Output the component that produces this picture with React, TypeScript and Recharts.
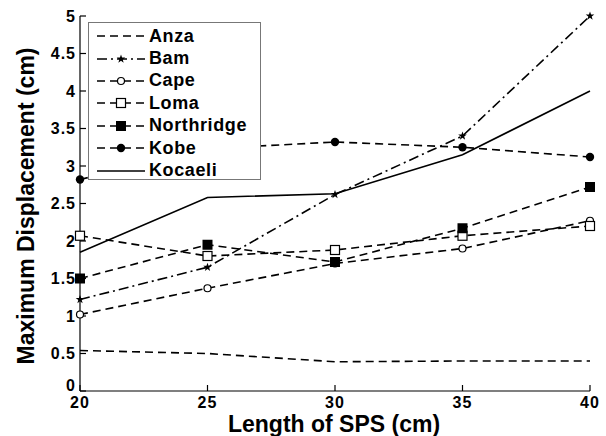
import { LineChart, Line, XAxis, YAxis } from 'recharts';

const lengths = [20, 25, 30, 35, 40];
const anza = [0.54, 0.5, 0.39, 0.4, 0.4];
const bam = [1.22, 1.65, 2.62, 3.4, 5.0];
const cape = [1.02, 1.37, 1.7, 1.9, 2.27];
const loma = [2.07, 1.8, 1.88, 2.07, 2.2];
const northridge = [1.5, 1.95, 1.72, 2.17, 2.72];
const kobe = [2.82, 3.23, 3.32, 3.25, 3.12];
const kocaeli = [1.85, 2.58, 2.63, 3.15, 4.0];
const yTicks = [0, 0.5, 1, 1.5, 2, 2.5, 3, 3.5, 4, 4.5, 5];
const xTicks = [20, 25, 30, 35, 40];

const data = lengths.map((l, i) => ({
  len: l,
  Anza: anza[i],
  Bam: bam[i],
  Cape: cape[i],
  Loma: loma[i],
  Northridge: northridge[i],
  Kobe: kobe[i],
  Kocaeli: kocaeli[i],
}));

const FONT = '"Liberation Sans", Arial, sans-serif';

function marker(kind: string, cx: number, cy: number, key?: any) {
  if (kind === 'star') {
    const pts: string[] = [];
    for (let k = 0; k < 10; k++) {
      const r = k % 2 === 0 ? 4.5 : 1.8;
      const a = (Math.PI / 5) * k - Math.PI / 2;
      pts.push(`${cx + r * Math.cos(a)},${cy + r * Math.sin(a)}`);
    }
    return <polygon key={key} points={pts.join(' ')} fill="#000" />;
  }
  if (kind === 'ocircle') return <circle key={key} cx={cx} cy={cy} r={3.5} fill="#fff" stroke="#000" strokeWidth={1.2} />;
  if (kind === 'osquare') return <rect key={key} x={cx - 4.5} y={cy - 4.5} width={9} height={9} fill="#fff" stroke="#000" strokeWidth={1.2} />;
  if (kind === 'fsquare') return <rect key={key} x={cx - 5} y={cy - 5} width={10} height={10} fill="#000" />;
  if (kind === 'fcircle') return <circle key={key} cx={cx} cy={cy} r={4.2} fill="#000" />;
  return <g key={key} />;
}

const series = [
  { name: 'Anza', dash: '8 5', mark: 'none' },
  { name: 'Bam', dash: '10 4 2 4', mark: 'star' },
  { name: 'Cape', dash: '8 5', mark: 'ocircle' },
  { name: 'Loma', dash: '8 5', mark: 'osquare' },
  { name: 'Northridge', dash: '8 5', mark: 'fsquare' },
  { name: 'Kobe', dash: '8 5', mark: 'fcircle' },
  { name: 'Kocaeli', dash: '', mark: 'none' },
];

function LegendBox() {
  return (
    <div
      style={{
        position: 'absolute',
        left: 88,
        top: 22,
        width: 173,
        height: 158,
        border: '1.5px solid #777',
        background: '#fff',
        boxSizing: 'border-box',
        paddingTop: 2,
      }}
    >
      {series.map((s) => (
        <div key={s.name} style={{ display: 'flex', alignItems: 'center', height: 22.4 }}>
          <svg width={54} height={14} style={{ marginLeft: 6 }}>
            <line x1={2} y1={7} x2={50} y2={7} stroke="#000" strokeWidth={1.6} strokeDasharray={s.dash || undefined} />
            {marker(s.mark, 26, 7)}
          </svg>
          <span style={{ fontFamily: FONT, fontWeight: 'bold', fontSize: 18, letterSpacing: 0.6, color: '#000' }}>
            {s.name}
          </span>
        </div>
      ))}
    </div>
  );
}

const yLabel = () => (
  <text
    x={26}
    y={206}
    transform="rotate(-90, 26, 206)"
    textAnchor="middle"
    dominantBaseline="central"
    fill="#000"
    fontFamily={FONT}
    fontWeight="bold"
    fontSize={23}
  >
    Maximum Displacement (cm)
  </text>
);

const xLabel = () => (
  <text x={334} y={424} textAnchor="middle" dominantBaseline="central" fill="#000" fontFamily={FONT} fontWeight="bold" fontSize={23}>
    Length of SPS (cm)
  </text>
);

const tickStyle = { fill: '#000', fontFamily: FONT, fontWeight: 'bold', fontSize: 16, letterSpacing: 1 };

const YTick = (p: any) => (
  <text
    x={p.x}
    y={p.y + (p.payload.value === 0 ? -6 : 0)}
    textAnchor="end"
    dominantBaseline="central"
    {...tickStyle}
  >
    {p.payload.value}
  </text>
);

export default function App() {
  return (
    <div style={{ position: 'absolute', left: 0, top: 0, width: 606, height: 436, background: '#fff' }}>
      <LineChart width={606} height={436} data={data} margin={{ top: 16, right: 16, bottom: 0, left: 0 }}>
        <XAxis
          dataKey="len"
          type="number"
          domain={[20, 40]}
          ticks={xTicks}
          height={45}
          stroke="#000"
          strokeWidth={1.2}
          tickSize={-6}
          tickMargin={12}
          tick={tickStyle}
          label={xLabel}
        />
        <YAxis
          type="number"
          domain={[0, 5]}
          ticks={yTicks}
          width={80}
          stroke="#000"
          strokeWidth={1.2}
          tickSize={-6}
          tickMargin={10}
          tick={YTick}
          label={yLabel}
        />
        {series.map((s) => (
          <Line
            key={s.name}
            type="linear"
            dataKey={s.name}
            stroke="#000"
            strokeWidth={1.6}
            strokeDasharray={s.dash || undefined}
            dot={s.mark === 'none' ? false : (p: any) => marker(s.mark, p.cx, p.cy, p.key ?? `${s.name}-${p.index}`)}
            activeDot={false}
            isAnimationActive={false}
          />
        ))}
      </LineChart>
      <LegendBox />
    </div>
  );
}
